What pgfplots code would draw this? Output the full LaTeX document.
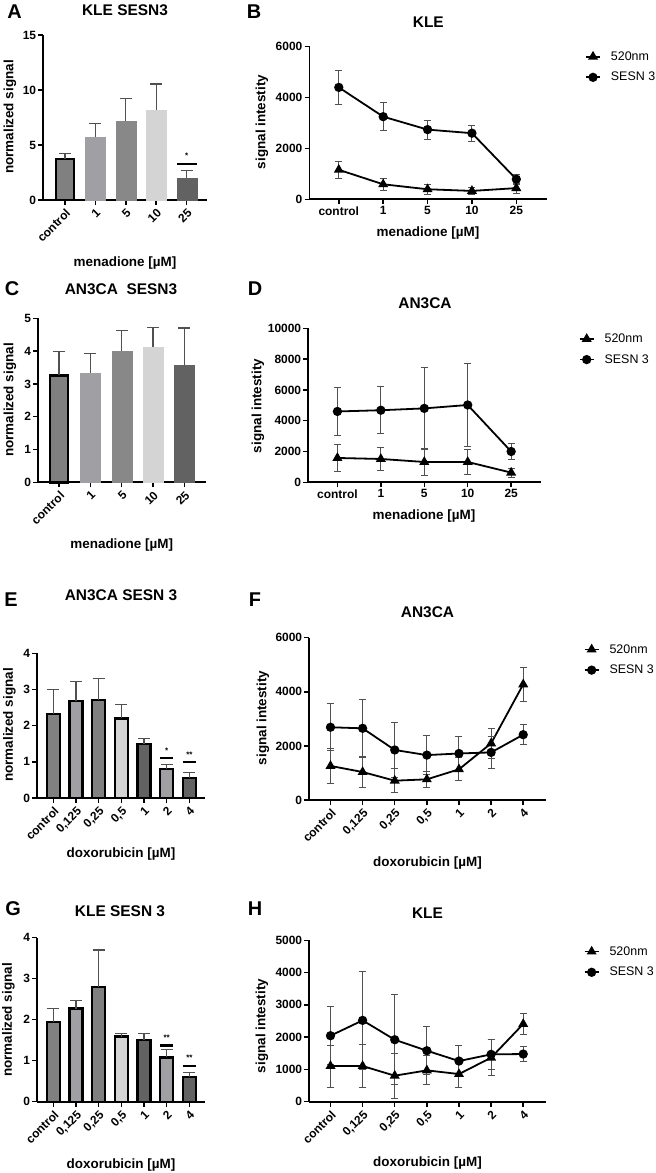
\documentclass[border=0pt]{standalone}
\usepackage{fontspec}
\setmainfont{Liberation Sans}
\usepackage{pgfplots}
\pgfplotsset{compat=1.18}
\definecolor{g1}{HTML}{808080}
\definecolor{g2}{HTML}{A0A0A4}
\definecolor{g3}{HTML}{888888}
\definecolor{g4}{HTML}{D4D4D4}
\definecolor{g5}{HTML}{626262}
\definecolor{eb}{HTML}{505050}
\newcommand\lett{\fontsize{20}{20}\selectfont\bfseries}
\newcommand\ttl{\fontsize{15.5}{16}\selectfont\bfseries}
\newcommand\lab{\fontsize{13.5}{14}\selectfont\bfseries}
\pgfplotsset{
 gp/.style={
  scale only axis, anchor=south west,
  axis x line=bottom, axis y line=left,
  axis line style={line width=1.8bp, black, -},
  tick align=outside, major tick length=5bp,
  tick style={line width=1.5bp, black},
  tick label style={font=\fontsize{12}{13}\selectfont\bfseries, inner sep=2bp},
  /pgf/number format/assume math mode=true,
  /pgf/number format/1000 sep={},
  scaled y ticks=false, clip=false, ymin=0,
 },
 bars/.style={gp, xticklabel style={rotate=45, anchor=north east}},
 lines/.style={gp,
  legend style={draw=none, fill=none, anchor=west, inner sep=0pt, outer sep=0pt,
    nodes={inner sep=0pt}, font=\fontsize{12.5}{13}\selectfont, row sep=10.5bp, column sep=10bp},
  legend cell align=left,
  legend image code/.code={\draw[mark repeat=2, mark phase=2] plot coordinates {(0bp,0bp) (7bp,0bp) (14bp,0bp)};}},
 bB/.style={ybar, bar width=13bp, bar shift=0pt, fill=#1, draw=black, line width=2.4bp,
  error bars/.cd, y dir=plus, y explicit, error bar style={line width=1.3bp, draw=eb},
  error mark options={rotate=90, mark size=6bp, line width=1.3bp, draw=eb}},
 bBw/.style={ybar, bar width=18bp, bar shift=0pt, fill=#1, draw=black, line width=2.4bp,
  error bars/.cd, y dir=plus, y explicit, error bar style={line width=1.3bp, draw=eb},
  error mark options={rotate=90, mark size=6bp, line width=1.3bp, draw=eb}},
 bN/.style={ybar, bar width=20bp, bar shift=0pt, fill=#1, draw=#1, line width=0.2bp,
  error bars/.cd, y dir=plus, y explicit, error bar style={line width=1.3bp, draw=eb},
  error mark options={rotate=90, mark size=6bp, line width=1.3bp, draw=eb}},
 l520/.style={black, line width=1.8bp, mark=triangle*, mark size=4bp, mark options={solid},
  error bars/.cd, y dir=both, y explicit, error bar style={line width=1bp, draw=eb},
  error mark options={rotate=90, mark size=3.5bp, line width=1bp, draw=eb}},
 lses/.style={black, line width=1.8bp, mark=*, mark size=3.7bp, mark options={solid},
  error bars/.cd, y dir=both, y explicit, error bar style={line width=1bp, draw=eb},
  error mark options={rotate=90, mark size=3.5bp, line width=1bp, draw=eb}},
}
\begin{document}
\begin{tikzpicture}
\path[use as bounding box] (0bp,0bp) rectangle (656bp,-1173bp);

% ---------------- A ----------------
\node[font=\lett] at (14.5bp,-11.7bp) {A};
\node[font=\ttl] at (125bp,-10.5bp) {KLE SESN3};
\node[font=\lab, rotate=90] at (10bp,-117bp) {normalized signal};
\node[font=\lab] at (125bp,-263bp) {menadione [µM]};
\begin{axis}[bars, at={(43.3bp,-200bp)}, width=163.4bp, height=165bp,
  xmin=-0.71, xmax=4.66, ymax=15, ytick={0,5,10,15},
  xtick={0,...,4}, xticklabels={control,1,5,10,25}]
\addplot[bBw=g1] coordinates {(0,3.75) +- (0,0.45)};
\addplot[bN=g2] coordinates {(1,5.7) +- (0,1.25)};
\addplot[bN=g3] coordinates {(2,7.15) +- (0,2.1)};
\addplot[bN=g4] coordinates {(3,8.2) +- (0,2.35)};
\addplot[bN=g5] coordinates {(4,1.97) +- (0,0.7)};
\draw[line width=2.4bp] (axis cs:3.67,3.25) -- (axis cs:4.33,3.25);
\node[font=\fontsize{8}{8}\selectfont\bfseries] at (axis cs:4,4.0) {*};
\end{axis}

% ---------------- B ----------------
\node[font=\lett] at (254bp,-11.5bp) {B};
\node[font=\ttl] at (428.3bp,-21.7bp) {KLE};
\node[font=\lab, rotate=90] at (262bp,-122bp) {signal intestity};
\node[font=\lab] at (428bp,-233bp) {menadione [µM]};
\begin{axis}[lines, at={(309.5bp,-199.3bp)}, width=237bp, height=152.6bp,
  xmin=-0.66, xmax=4.68, ymax=6000, ytick={0,2000,4000,6000},
  xtick={0,...,4}, xticklabels={control,1,5,10,25},
  legend style={at={(1.163,0.867)}}]
\addplot[l520] coordinates {(0,1160) +- (0,340) (1,590) +- (0,225) (2,395) +- (0,190) (3,330) +- (0,140) (4,440) +- (0,200)};
\addlegendentry{520nm}
\addplot[lses] coordinates {(0,4400) +- (0,660) (1,3250) +- (0,560) (2,2740) +- (0,375) (3,2600) +- (0,310) (4,790) +- (0,195)};
\addlegendentry{SESN 3}
\end{axis}

% ---------------- C ----------------
\node[font=\lett] at (12bp,-288.5bp) {C};
\node[font=\ttl] at (121bp,-289bp) {AN3CA\ \ SESN3};
\node[font=\lab, rotate=90] at (10bp,-400bp) {normalized signal};
\node[font=\lab] at (121.7bp,-545bp) {menadione [µM]};
\begin{axis}[bars, at={(38.3bp,-482.3bp)}, width=167.4bp, height=164bp,
  xmin=-0.66, xmax=4.68, ymax=5, ytick={0,1,2,3,4,5},
  xtick={0,...,4}, xticklabels={control,1,5,10,25}]
\addplot[bBw=g1] coordinates {(0,3.26) +- (0,0.73)};
\addplot[bN=g2] coordinates {(1,3.34) +- (0,0.58)};
\addplot[bN=g3] coordinates {(2,4.0) +- (0,0.62)};
\addplot[bN=g4] coordinates {(3,4.13) +- (0,0.6)};
\addplot[bN=g5] coordinates {(4,3.57) +- (0,1.13)};
\end{axis}

% ---------------- D ----------------
\node[font=\lett] at (255bp,-288.5bp) {D};
\node[font=\ttl] at (425bp,-303bp) {AN3CA};
\node[font=\lab, rotate=90] at (258bp,-406bp) {signal intestity};
\node[font=\lab] at (424bp,-516bp) {menadione [µM]};
\begin{axis}[lines, at={(308.3bp,-482.3bp)}, width=232.4bp, height=154bp,
  xmin=-0.67, xmax=4.68, ymax=10000, ytick={0,2000,4000,6000,8000,10000},
  xtick={0,...,4}, xticklabels={control,1,5,10,25},
  legend style={at={(1.164,0.864)}}]
\addplot[l520] coordinates {(0,1580) +- (0,860) (1,1515) +- (0,740) (2,1320) +- (0,850) (3,1320) +- (0,820) (4,630) +- (0,290)};
\addlegendentry{520nm}
\addplot[lses] coordinates {(0,4600) +- (0,1530) (1,4680) +- (0,1540) (2,4800) +- (0,2650) (3,5020) +- (0,2700) (4,2000) +- (0,510)};
\addlegendentry{SESN 3}
\end{axis}

% ---------------- E ----------------
\node[font=\lett] at (11bp,-600bp) {E};
\node[font=\ttl] at (121bp,-595bp) {AN3CA SESN 3};
\node[font=\lab, rotate=90] at (9.5bp,-725bp) {normalized signal};
\node[font=\lab] at (121bp,-854bp) {doxorubicin [µM]};
\begin{axis}[bars, at={(37.3bp,-798bp)}, width=167.7bp, height=144.7bp,
  xmin=-0.71, xmax=6.69, ymax=4, ytick={0,1,2,3,4},
  xtick={0,...,6}, xticklabels={control,{0,125},{0,25},{0,5},1,2,4}]
\addplot[bB=g1] coordinates {(0,2.33) +- (0,0.67)};
\addplot[bB=g2] coordinates {(1,2.68) +- (0,0.55)};
\addplot[bB=g1] coordinates {(2,2.71) +- (0,0.59)};
\addplot[bB=g4] coordinates {(3,2.20) +- (0,0.38)};
\addplot[bB=g5] coordinates {(4,1.50) +- (0,0.14)};
\addplot[bB=g2] coordinates {(5,0.81) +- (0,0.12)};
\addplot[bB=g5] coordinates {(6,0.56) +- (0,0.15)};
\draw[line width=2.4bp] (axis cs:4.7,1.1) -- (axis cs:5.3,1.1);
\draw[line width=2.4bp] (axis cs:5.7,1.0) -- (axis cs:6.3,1.0);
\node[font=\fontsize{8}{8}\selectfont\bfseries] at (axis cs:5,1.3) {*};
\node[font=\fontsize{8}{8}\selectfont\bfseries] at (axis cs:6,1.2) {**};
\end{axis}

% ---------------- F ----------------
\node[font=\lett] at (255bp,-600bp) {F};
\node[font=\ttl] at (427.5bp,-612bp) {AN3CA};
\node[font=\lab, rotate=90] at (263bp,-718bp) {signal intestity};
\node[font=\lab] at (427.5bp,-863bp) {doxorubicin [µM]};
\begin{axis}[lines, at={(309.3bp,-800bp)}, width=236.4bp, height=162.3bp,
  xmin=-0.66, xmax=6.7, ymax=6000, ytick={0,2000,4000,6000},
  xtick={0,...,6}, xticklabels={control,{0,125},{0,25},{0,5},1,2,4},
  xticklabel style={rotate=45, anchor=north east},
  legend style={at={(1.161,0.864)}}]
\addplot[l520] coordinates {(0,1260) +- (0,650) (1,1035) +- (0,570) (2,715) +- (0,440) (3,764) +- (0,300) (4,1135) +- (0,430) (5,2094) +- (0,560) (6,4275) +- (0,640)};
\addlegendentry{520nm}
\addplot[lses] coordinates {(0,2690) +- (0,875) (1,2650) +- (0,1080) (2,1850) +- (0,1010) (3,1660) +- (0,730) (4,1720) +- (0,620) (5,1760) +- (0,580) (6,2415) +- (0,370)};
\addlegendentry{SESN 3}
\end{axis}

% ---------------- G ----------------
\node[font=\lett] at (13bp,-909bp) {G};
\node[font=\ttl] at (120bp,-911bp) {KLE SESN 3};
\node[font=\lab, rotate=90] at (8.5bp,-1020bp) {normalized signal};
\node[font=\lab] at (121bp,-1165bp) {doxorubicin [µM]};
\begin{axis}[bars, at={(37.3bp,-1101.7bp)}, width=167.7bp, height=164bp,
  xmin=-0.71, xmax=6.69, ymax=4, ytick={0,1,2,3,4},
  xtick={0,...,6}, xticklabels={control,{0,125},{0,25},{0,5},1,2,4}]
\addplot[bB=g1] coordinates {(0,1.94) +- (0,0.33)};
\addplot[bB=g2] coordinates {(1,2.27) +- (0,0.20)};
\addplot[bB=g1] coordinates {(2,2.80) +- (0,0.90)};
\addplot[bB=g4] coordinates {(3,1.59) +- (0,0.08)};
\addplot[bB=g5] coordinates {(4,1.50) +- (0,0.17)};
\addplot[bB=g2] coordinates {(5,1.08) +- (0,0.20)};
\addplot[bB=g5] coordinates {(6,0.60) +- (0,0.12)};
\draw[line width=2.4bp] (axis cs:4.7,1.37) -- (axis cs:5.3,1.37);
\draw[line width=2.4bp] (axis cs:5.7,0.87) -- (axis cs:6.3,0.87);
\node[font=\fontsize{8}{8}\selectfont\bfseries] at (axis cs:5,1.56) {**};
\node[font=\fontsize{8}{8}\selectfont\bfseries] at (axis cs:6,1.07) {**};
\end{axis}

% ---------------- H ----------------
\node[font=\lett] at (255bp,-909bp) {H};
\node[font=\ttl] at (427.5bp,-913.5bp) {KLE};
\node[font=\lab, rotate=90] at (262bp,-1026bp) {signal intestity};
\node[font=\lab] at (427.5bp,-1163bp) {doxorubicin [µM]};
\begin{axis}[lines, at={(309.3bp,-1101.7bp)}, width=236.4bp, height=161.4bp,
  xmin=-0.66, xmax=6.7, ymax=5000, ytick={0,1000,2000,3000,4000,5000},
  xtick={0,...,6}, xticklabels={control,{0,125},{0,25},{0,5},1,2,4},
  xticklabel style={rotate=45, anchor=north east},
  legend style={at={(1.161,0.866)}}]
\addplot[l520] coordinates {(0,1105) +- (0,650) (1,1105) +- (0,680) (2,806) +- (0,700) (3,971) +- (0,450) (4,857) +- (0,410) (5,1364) +- (0,550) (6,2407) +- (0,320)};
\addlegendentry{520nm}
\addplot[lses] coordinates {(0,2045) +- (0,900) (1,2520) +- (0,1510) (2,1920) +- (0,1400) (3,1580) +- (0,750) (4,1260) +- (0,490) (5,1467) +- (0,465) (6,1477) +- (0,240)};
\addlegendentry{SESN 3}
\end{axis}
\end{tikzpicture}
\end{document}
